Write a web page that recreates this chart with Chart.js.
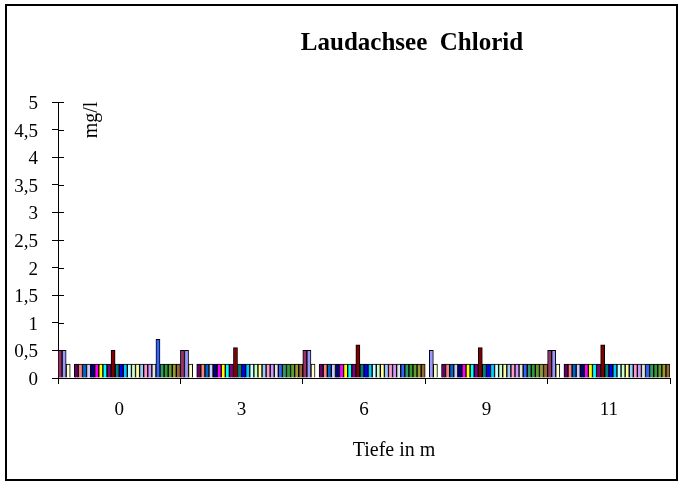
<!DOCTYPE html>
<html><head><meta charset="utf-8">
<script src="https://cdn.jsdelivr.net/npm/chart.js@4.4.1/dist/chart.umd.min.js"></script>
<style>html,body{margin:0;padding:0;background:#fff}canvas{display:block}</style>
</head><body>
<canvas id="c" width="682" height="483"></canvas>
<script>
const chartTitle = 'Laudachsee  Chlorid';
const yAxisTitle = 'mg/l';
const xAxisTitle = 'Tiefe in m';
const categories = ['0', '3', '6', '9', '11'];
const yTickLabels = ['0', '0,5', '1', '1,5', '2', '2,5', '3', '3,5', '4', '4,5', '5'];

const s01 = [0.5, 0.5, 0.5, null, 0.5];
const s02 = [0.5, 0.5, 0.5, 0.5, 0.5];
const s03 = [0.25, 0.25, 0.25, 0.25, 0.25];
const s04 = [null, null, null, null, null];
const s05 = [0.25, 0.25, 0.25, 0.25, 0.25];
const s06 = [0.25, 0.25, 0.25, 0.25, 0.25];
const s07 = [0.25, 0.25, 0.25, 0.25, 0.25];
const s08 = [0.25, 0.25, 0.25, 0.25, 0.25];
const s09 = [0.25, 0.25, 0.25, 0.25, 0.25];
const s10 = [0.25, 0.25, 0.25, 0.25, 0.25];
const s11 = [0.25, 0.25, 0.25, 0.25, 0.25];
const s12 = [0.25, 0.25, 0.25, 0.25, 0.25];
const s13 = [0.25, 0.25, 0.25, 0.25, 0.25];
const s14 = [0.5, 0.55, 0.6, 0.55, 0.6];
const s15 = [0.25, 0.25, 0.25, 0.25, 0.25];
const s16 = [0.25, 0.25, 0.25, 0.25, 0.25];
const s17 = [0.25, 0.25, 0.25, 0.25, 0.25];
const s18 = [0.25, 0.25, 0.25, 0.25, 0.25];
const s19 = [0.25, 0.25, 0.25, 0.25, 0.25];
const s20 = [0.25, 0.25, 0.25, 0.25, 0.25];
const s21 = [0.25, 0.25, 0.25, 0.25, 0.25];
const s22 = [0.25, 0.25, 0.25, 0.25, 0.25];
const s23 = [0.25, 0.25, 0.25, 0.25, 0.25];
const s24 = [0.25, 0.25, 0.25, 0.25, 0.25];
const s25 = [0.7, 0.25, 0.25, 0.25, 0.25];
const s26 = [0.25, 0.25, 0.25, 0.25, 0.25];
const s27 = [0.25, 0.25, 0.25, 0.25, 0.25];
const s28 = [0.25, 0.25, 0.25, 0.25, 0.25];
const s29 = [0.25, 0.25, 0.25, 0.25, 0.25];
const s30 = [0.25, 0.25, 0.25, 0.25, 0.25];

const seriesValues = [s01, s02, s03, s04, s05, s06, s07, s08, s09, s10,
  s11, s12, s13, s14, s15, s16, s17, s18, s19, s20,
  s21, s22, s23, s24, s25, s26, s27, s28, s29, s30];

const seriesColors = ['#993366', '#9999FF', '#FFFFCC', '#CCFFFF', '#660066',
  '#FF8080', '#0066CC', '#CCCCFF', '#000080', '#FF00FF',
  '#FFFF00', '#00FFFF', '#800080', '#800000', '#008080',
  '#0000FF', '#00CCFF', '#CCFFFF', '#CCFFCC', '#FFFF99',
  '#99CCFF', '#FF99CC', '#CC99FF', '#E3E3E3', '#3366FF',
  '#339966', '#339933', '#669933', '#999933', '#996633'];

const FONT = '"Liberation Serif", "Times New Roman", serif';

const decorPlugin = {
  id: 'decor',
  afterDraw(chart) {
    const ctx = chart.ctx;
    const y = chart.scales.y;
    ctx.save();
    ctx.strokeStyle = '#000';
    ctx.lineWidth = 1;
    y.ticks.forEach((t, i) => {
      const py = Math.round(y.getPixelForTick(i)) + 0.5;
      ctx.beginPath();
      ctx.moveTo(y.right, py);
      ctx.lineTo(y.right + 6, py);
      ctx.stroke();
    });
    ctx.lineWidth = 2;
    ctx.strokeRect(6, 5, 671, 475);
    ctx.fillStyle = '#000';
    ctx.textAlign = 'center';
    ctx.textBaseline = 'alphabetic';
    ctx.font = 'bold 25px ' + FONT;
    ctx.fillText(chartTitle, 412, 50);
    ctx.font = '20px ' + FONT;
    ctx.fillText(xAxisTitle, 394, 456);
    ctx.translate(97, 120);
    ctx.rotate(-Math.PI / 2);
    ctx.font = '20px ' + FONT;
    ctx.fillText(yAxisTitle, 0, 0);
    ctx.restore();
  }
};

new Chart(document.getElementById('c'), {
  type: 'bar',
  data: {
    labels: categories,
    datasets: seriesValues.map((v, i) => ({
      label: 'Serie ' + (i + 1),
      data: v,
      backgroundColor: seriesColors[i],
      borderColor: '#000',
      borderWidth: 1,
      categoryPercentage: 1,
      barPercentage: 1
    }))
  },
  options: {
    responsive: false,
    animation: false,
    layout: { padding: { left: 0, top: 102, right: 12, bottom: 65 } },
    plugins: { legend: { display: false }, tooltip: { enabled: false }, title: { display: false } },
    scales: {
      x: {
        grid: { display: true, drawOnChartArea: false, offset: true, tickLength: 6, color: '#000', lineWidth: 1 },
        border: { display: true, color: '#000', width: 1 },
        ticks: { color: '#000', font: { family: FONT, size: 19 }, padding: 15, maxRotation: 0, autoSkip: false },
        afterFit(s) { s.height = 40; }
      },
      y: {
        min: 0, max: 5,
        grid: { display: true, drawOnChartArea: false, tickLength: 6, color: '#000', lineWidth: 1 },
        border: { display: true, color: '#000', width: 1 },
        ticks: {
          stepSize: 0.5, color: '#000', font: { family: FONT, size: 19 }, padding: 14, labelOffset: 2,
          callback: (v, i) => yTickLabels[i]
        },
        afterFit(s) { s.width = 58; }
      }
    }
  },
  plugins: [decorPlugin]
});
</script>
</body></html>
